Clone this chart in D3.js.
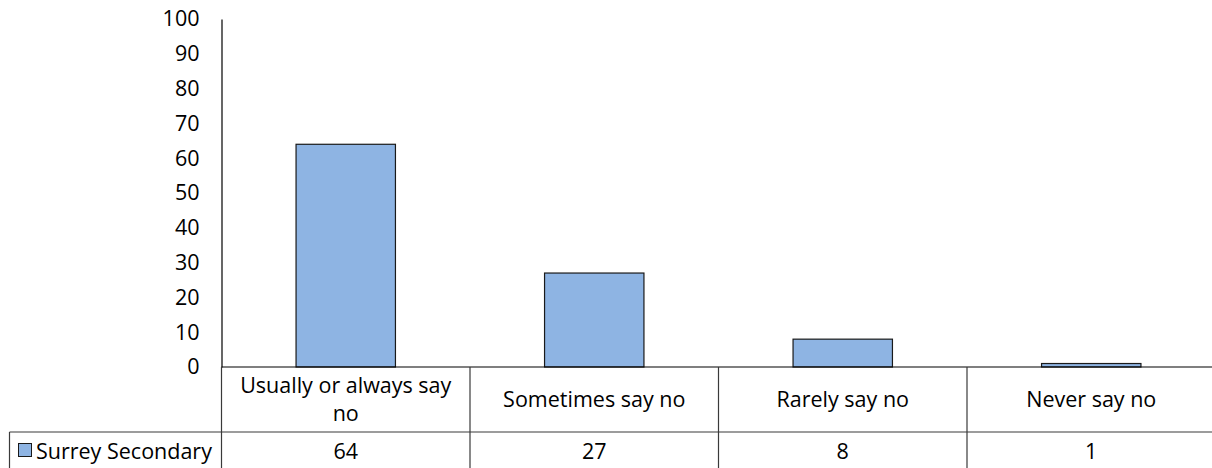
<!DOCTYPE html>
<html>
<head>
<meta charset="utf-8">
<script src="https://cdn.jsdelivr.net/npm/d3@7"></script>
<style>
  body { margin: 0; background: #fff; }
  text { font-family: "Open Sans", Lato, sans-serif; fill: #000; }
</style>
</head>
<body>
<div id="chart"></div>
<script>
var width = 1212;
var height = 468;

var categories = ["Usually or always say no", "Sometimes say no", "Rarely say no", "Never say no"];
var seriesName = "Surrey Secondary";
var values = [64, 27, 8, 1];
var yTicks = [0, 10, 20, 30, 40, 50, 60, 70, 80, 90, 100];

var plotLeft = 221.5, plotRight = 1215.5, plotTop = 19, plotBase = 367, rowLine = 432, legendLeft = 9.5;
var fontSize = "21.5px";

var xScale = d3.scaleBand().domain(categories).range([plotLeft, plotRight]).padding(0);
var yScale = d3.scaleLinear().domain([0, 100]).range([plotBase, plotTop]);

var svg = d3.select("#chart").append("svg")
    .attr("width", width)
    .attr("height", height);

// y axis
var yAxis = d3.axisLeft(yScale).tickValues(yTicks).tickSize(0).tickPadding(22);
var gy = svg.append("g")
    .attr("transform", "translate(" + plotLeft + ",0)")
    .call(yAxis);
gy.select(".domain").attr("stroke", "#000").attr("stroke-width", 1.2);
gy.selectAll("text").style("font-size", fontSize).style("font-family", "'Open Sans', sans-serif").attr("fill", "#000");

// bars
var bw = xScale.bandwidth();
svg.selectAll("rect.bar")
    .data(values)
    .enter().append("rect")
    .attr("class", "bar")
    .attr("x", function(d, i) { return xScale(categories[i]) + bw * 0.3; })
    .attr("width", bw * 0.4)
    .attr("y", function(d) { return yScale(d); })
    .attr("height", function(d) { return plotBase - yScale(d); })
    .attr("fill", "#8eb4e3")
    .attr("stroke", "#1a1a1a")
    .attr("stroke-width", 1.2);

// table lines
var lines = svg.append("g").attr("stroke", "#3a3a3a").attr("stroke-width", 1.2);
lines.append("line").attr("x1", plotLeft).attr("x2", plotRight).attr("y1", plotBase).attr("y2", plotBase).attr("stroke", "#000");
lines.append("line").attr("x1", legendLeft).attr("x2", plotRight).attr("y1", rowLine).attr("y2", rowLine);
lines.append("line").attr("x1", legendLeft).attr("x2", legendLeft).attr("y1", rowLine).attr("y2", height);
lines.append("line").attr("x1", plotLeft).attr("x2", plotLeft).attr("y1", plotBase).attr("y2", height);
lines.selectAll("line.sep")
    .data(categories.slice(1))
    .enter().append("line")
    .attr("class", "sep")
    .attr("x1", function(d) { return xScale(d); })
    .attr("x2", function(d) { return xScale(d); })
    .attr("y1", plotBase).attr("y2", height);

// category labels (wrapped)
var catText = svg.selectAll("text.cat")
    .data(categories)
    .enter().append("text")
    .attr("class", "cat")
    .attr("text-anchor", "middle")
    .style("font-size", fontSize)
    .attr("x", function(d) { return xScale(d) + bw / 2; });

catText.each(function(d) {
  var t = d3.select(this);
  var words = d.split(" ");
  var lineArr = [], linesOut = [];
  var tsp = t.append("tspan");
  words.forEach(function(w) {
    lineArr.push(w);
    tsp.text(lineArr.join(" "));
    if (tsp.node().getComputedTextLength() > bw - 24 && lineArr.length > 1) {
      lineArr.pop();
      linesOut.push(lineArr.join(" "));
      lineArr = [w];
    }
  });
  linesOut.push(lineArr.join(" "));
  tsp.remove();
  var lh = 28;
  var y0 = (plotBase + rowLine) / 2 + 7.5 - (linesOut.length - 1) * lh / 2;
  linesOut.forEach(function(s, i) {
    t.append("tspan")
      .attr("x", xScale(d) + bw / 2)
      .attr("y", y0 + i * lh)
      .text(s);
  });
});

// values row
svg.selectAll("text.val")
    .data(values)
    .enter().append("text")
    .attr("class", "val")
    .attr("text-anchor", "middle")
    .style("font-size", fontSize)
    .attr("x", function(d, i) { return xScale(categories[i]) + bw / 2; })
    .attr("y", 459)
    .text(function(d) { return d; });

// legend key
svg.append("rect")
    .attr("x", 18.5).attr("y", 443.5)
    .attr("width", 13).attr("height", 13)
    .attr("fill", "#8eb4e3")
    .attr("stroke", "#1a1a1a")
    .attr("stroke-width", 1);
svg.append("text")
    .attr("x", 36).attr("y", 459)
    .style("font-size", fontSize)
    .text(seriesName);
</script>
</body>
</html>
